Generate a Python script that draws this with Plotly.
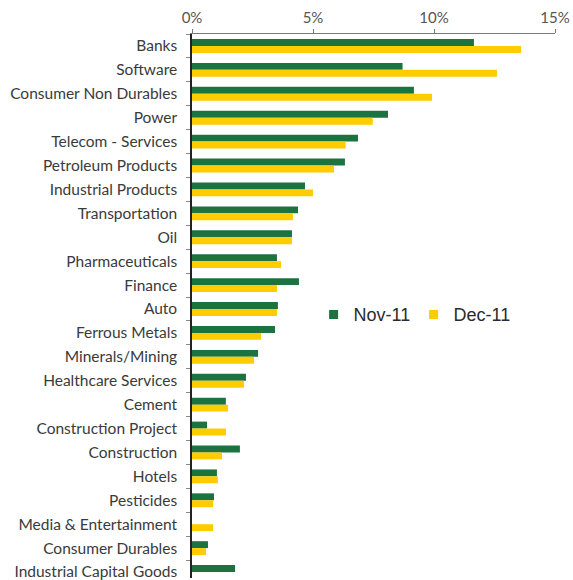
import plotly.graph_objects as go

# Sector weights (% of portfolio), two month-end snapshots
sectors = [
    "Banks", "Software", "Consumer Non Durables", "Power", "Telecom - Services",
    "Petroleum Products", "Industrial Products", "Transportation", "Oil",
    "Pharmaceuticals", "Finance", "Auto", "Ferrous Metals", "Minerals/Mining",
    "Healthcare Services", "Cement", "Construction Project", "Construction",
    "Hotels", "Pesticides", "Media & Entertainment", "Consumer Durables",
    "Industrial Capital Goods",
]
nov_11 = [11.65, 8.7, 9.17, 8.1, 6.86, 6.32, 4.67, 4.38, 4.13, 3.51, 4.42, 3.55,
          3.43, 2.73, 2.23, 1.40, 0.62, 1.98, 1.03, 0.91, 0.0, 0.66, 1.78]
dec_11 = [13.6, 12.6, 9.92, 7.47, 6.35, 5.87, 5.0, 4.17, 4.13, 3.68, 3.51, 3.51,
          2.85, 2.56, 2.15, 1.49, 1.40, 1.24, 1.07, 0.87, 0.87, 0.58, 0.0]
x_ticks = [0, 5, 10, 15]
x_tick_labels = ["0%", "5%", "10%", "15%"]

GREEN = "#1c7340"
YELLOW = "#ffcc00"

fig = go.Figure()
fig.add_trace(go.Bar(y=sectors, x=nov_11, orientation="h", name="Nov-11",
                     marker=dict(color=GREEN, line_width=0), showlegend=False))
fig.add_trace(go.Bar(y=sectors, x=dec_11, orientation="h", name="Dec-11",
                     marker=dict(color=YELLOW, line_width=0), showlegend=False))

# Legend entries with small square swatches
for name, color in (("Nov-11", GREEN), ("Dec-11", YELLOW)):
    fig.add_trace(go.Scatter(x=[None], y=[None], mode="markers", name=name,
                             marker=dict(symbol="square", size=9, color=color)))

fig.update_layout(
    width=573, height=580,
    margin=dict(l=192, r=18, t=34, b=0),
    paper_bgcolor="white", plot_bgcolor="white",
    barmode="group", bargap=0.42, bargroupgap=0,
    font=dict(family="Lato, Open Sans, sans-serif", color="#333333"),
    showlegend=True,
    legend=dict(orientation="h", x=0.335, y=0.484, xanchor="left", yanchor="middle",
                font=dict(family="Liberation Sans, Arial, sans-serif", size=18,
                          color="#2b2b2b"),
                bgcolor="rgba(0,0,0,0)", itemwidth=30, entrywidth=55,
                tracegroupgap=0),
    xaxis=dict(
        side="top", range=[0, 15], tickvals=x_ticks, ticktext=x_tick_labels,
        showgrid=False, zeroline=False, showline=True, linecolor="#7a7a7a",
        linewidth=1.2, ticks="outside", ticklen=4, tickcolor="#7a7a7a",
        tickfont=dict(size=15, color="#555555"),
    ),
    yaxis=dict(
        type="category", range=[22.25, -0.5], showgrid=False, zeroline=False,
        showline=True, linecolor="#222222", linewidth=1.5,
        ticks="outside", tickson="boundaries", ticklen=4, tickcolor="#888888",
        ticklabelstandoff=10,
        tickfont=dict(size=15.5, color="#3a3a3a"),
    ),
)

fig.write_html("out.html")
